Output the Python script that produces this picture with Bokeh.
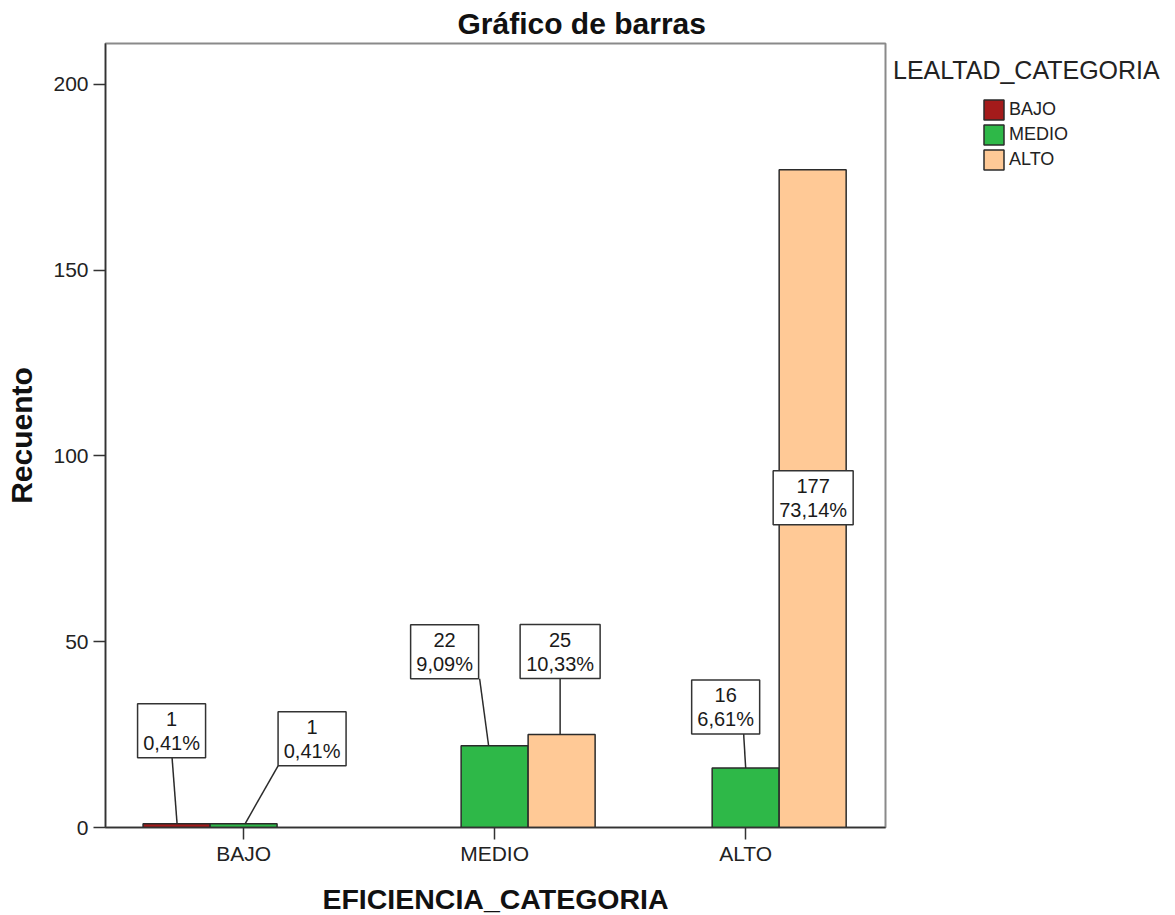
from bokeh.plotting import figure
from bokeh.models import ColumnDataSource, Range1d, FixedTicker, Legend, LegendItem, Title
from bokeh.core.properties import value
from bokeh.embed import file_html
from bokeh.resources import INLINE

# ---------------- data ----------------
eficiencia = ["BAJO", "MEDIO", "ALTO"]          # x categories
lealtad = ["BAJO", "MEDIO", "ALTO"]             # series
count_lealtad_bajo = [1, 0, 0]
count_lealtad_medio = [1, 22, 16]
count_lealtad_alto = [0, 25, 177]
y_ticks = [0, 50, 100, 150, 200]

# ---------------- styles ----------------
colors = ["#A41B1B", "#2EB848", "#FFC996"]
FONT = "Liberation Sans"
FW, FH = 780, 784
X0, X1 = 0.45, 3.557
Y0, Y1 = 0, 211
PXX = FW / (X1 - X0)
PXY = FH / (Y1 - Y0)
BW = 67.0 / PXX
series_offset = [-BW, 0.0, BW]

# label box placement, in pixels relative to bar top: (dx, dy, anchor_dx, end_dx)
label_layout = {
    (0, 0): (-5, 93, 0.5, 0.5),
    (0, 1): (68.5, 85, 1.5, -34),
    (1, 1): (-50, 94, -6, 35),
    (1, 2): (-1.5, 83, -1.5, 0),
    (2, 1): (-20, 61, 0, 18),
    (2, 2): (0.5, -328, 0, 0),
}
BOX_H = 54

counts = [count_lealtad_bajo, count_lealtad_medio, count_lealtad_alto]
total = sum(sum(c) for c in counts)

p = figure(frame_width=FW, frame_height=FH,
           x_range=Range1d(X0, X1), y_range=Range1d(Y0, Y1),
           output_backend="svg", toolbar_location=None,
           min_border_left=105, min_border_top=43, min_border_right=282,
           min_border_bottom=60)
p.xgrid.visible = False
p.ygrid.visible = False
p.outline_line_color = "#8a8a8a"
p.outline_line_width = 2
p.background_fill_color = "white"
p.border_fill_color = "white"

p.title = Title(text="Gráfico de barras", align="left", offset=352, standoff=8,
                text_font=FONT, text_font_size="30px", text_font_style="bold",
                text_color="#111111")

renderers = []
for j, (name, cnt) in enumerate(zip(lealtad, counts)):
    xs, tops = [], []
    for i, v in enumerate(cnt):
        if v > 0:
            xs.append(i + 1 + series_offset[j])
            tops.append(v)
    src = ColumnDataSource(dict(x=xs, top=tops))
    r = p.vbar(x="x", top="top", bottom=0, width=BW, source=src,
               fill_color=colors[j], line_color="#2b2b2b", line_width=1.5)
    renderers.append(r)

# label boxes
seg = dict(x0=[], y0=[], x1=[], y1=[])
box = dict(x=[], y=[], w=[], text=[])
for j, cnt in enumerate(counts):
    for i, v in enumerate(cnt):
        if v <= 0:
            continue
        dx, dy, adx, edx = label_layout[(i, j)]
        bx = i + 1 + series_offset[j]
        pct = f"{100.0 * v / total:.2f}".replace(".", ",") + "%"
        cx = bx + dx / PXX
        cy = v + dy / PXY
        if dy > 0:
            seg["x0"].append(bx + adx / PXX)
            seg["y0"].append(v)
            seg["x1"].append(cx + edx / PXX)
            seg["y1"].append(cy - (BOX_H / 2) / PXY)
        box["x"].append(cx)
        box["y"].append(cy)
        box["w"].append(68 if len(pct) <= 5 else 80)
        box["text"].append(f"{v}\n{pct}")

p.segment(x0="x0", y0="y0", x1="x1", y1="y1", source=ColumnDataSource(seg),
          line_color="#2b2b2b", line_width=1.5)
bsrc = ColumnDataSource(box)
p.rect(x="x", y="y", width="w", height=BOX_H, width_units="screen", height_units="screen",
       source=bsrc, fill_color="white", line_color="#333333", line_width=1.5)
p.text(x="x", y="y", text="text", source=bsrc, text_align="center", text_baseline="middle",
       text_font=value(FONT), text_font_size="20px", text_line_height=1.1, text_color="#1a1a1a")

# axes
for ax in (p.xaxis[0], p.yaxis[0]):
    ax.axis_line_color = "#333333"
    ax.axis_line_width = 1.5
    ax.major_tick_line_color = "#333333"
    ax.major_tick_line_width = 1.5
    ax.major_tick_out = 12
    ax.major_tick_in = 0
    ax.minor_tick_out = 0
    ax.minor_tick_in = 0
    ax.major_label_text_font = FONT
    ax.major_label_text_font_size = "21px"
    ax.major_label_text_color = "#222222"
    ax.axis_label_text_font = FONT
    ax.axis_label_text_font_style = "bold"
    ax.axis_label_text_color = "#111111"

p.xaxis.ticker = FixedTicker(ticks=[1, 2, 3])
p.xaxis.major_label_overrides = {i + 1: c for i, c in enumerate(eficiencia)}
p.xaxis.major_label_standoff = 2
p.xaxis.axis_label = "EFICIENCIA_CATEGORIA"
p.xaxis.axis_label_text_font_size = "28.5px"
p.xaxis.axis_label_standoff = 15

p.yaxis.ticker = FixedTicker(ticks=y_ticks)
p.yaxis.major_label_standoff = 5
p.yaxis.axis_label = "Recuento"
p.yaxis.axis_label_text_font_size = "30px"
p.yaxis.axis_label_standoff = 12

# legend: first column holds invisible spacer items so the swatches sit indented under the title
spacers = []
for k in range(3):
    spacers.append(p.vbar(x=[], top=[], width=0.1, fill_alpha=0, line_alpha=0))
items = [LegendItem(label=" ", renderers=[s]) for s in spacers]
items += [LegendItem(label=n, renderers=[r]) for n, r in zip(lealtad, renderers)]
legend = Legend(items=items, title="LEALTAD_CATEGORIA", orientation="vertical",
                nrows=3, ncols=2,
                location=(8, 655.5), padding=0, margin=0, spacing=0,
                glyph_width=25, glyph_height=25, label_height=20, label_width=60,
                label_standoff=3,
                label_text_font=FONT, label_text_font_size="18px", label_text_color="#222222",
                title_text_font=FONT, title_text_font_size="25px", title_text_font_style="normal",
                title_text_color="#222222", title_standoff=12,
                border_line_alpha=0, background_fill_alpha=0)
p.add_layout(legend, "right")

open("out.html", "w").write(file_html(p, INLINE))
